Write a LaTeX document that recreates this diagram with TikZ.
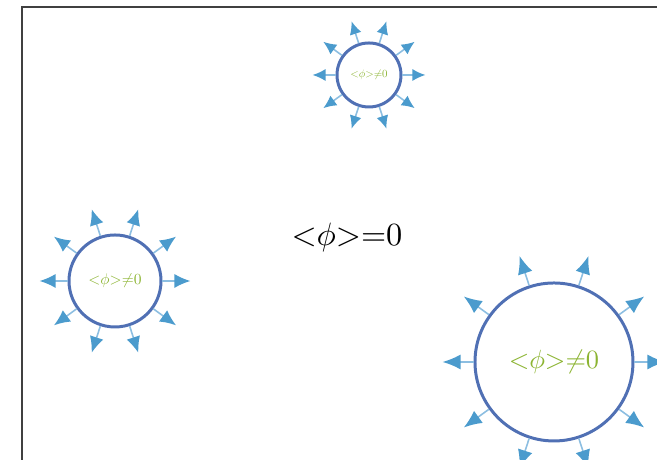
\documentclass[tikz,border=0pt]{standalone}
\usepackage{tikz}
\usetikzlibrary{arrows.meta}

\definecolor{anel}{RGB}{80,112,180}
\definecolor{setahaste}{RGB}{140,190,225}
\definecolor{setaponta}{RGB}{75,155,205}
\definecolor{verde}{RGB}{140,180,50}

\begin{document}
\begin{tikzpicture}
            [
                bolha/.style={circle, draw=anel, line width=0.85pt, inner sep=0pt, text=verde},
                raio/.style={draw=setahaste, line width=0.45pt},
                moldura/.style={draw=black!75, line width=0.5pt},
            ]
            \useasboundingbox (0,0) rectangle (6.57,4.60);
            % moldura
            \draw[moldura] (0.22,0) -- (0.22,4.53) -- (6.57,4.53);
            % vacuo
            \node (vacuo) at (3.47,2.23) {\scalebox{0.92}{${<}\phi{>}{=}0$}};
            % bolha de cima
            \node[bolha, minimum size=0.64cm] (cima) at (3.69,3.85) {\scalebox{0.31}{${<}\phi{>}{\neq}0$}};
            % bolha da esquerda
            \node[bolha, minimum size=0.92cm] (esq) at (1.15,1.79) {\scalebox{0.44}{${<}\phi{>}{\neq}0$}};
            % bolha da direita
            \node[bolha, minimum size=1.58cm] (dir) at (5.54,0.98) {\scalebox{0.75}{${<}\phi{>}{\neq}0$}};
            % raios
            \foreach \a in {0,36,...,324} {
                \path (cima.\a) ++(\a:0.23) coordinate (cima-\a);
                \draw[raio, -{Latex[length=0.13cm, width=0.12cm, color=setaponta]}] (cima.\a) -- (cima-\a);
                \path (esq.\a) ++(\a:0.28) coordinate (esq-\a);
                \draw[raio, -{Latex[length=0.16cm, width=0.14cm, color=setaponta]}] (esq.\a) -- (esq-\a);
                \path (dir.\a) ++(\a:0.31) coordinate (dir-\a);
                \draw[raio, -{Latex[length=0.18cm, width=0.15cm, color=setaponta]}] (dir.\a) -- (dir-\a);
            }
\end{tikzpicture}
\end{document}
